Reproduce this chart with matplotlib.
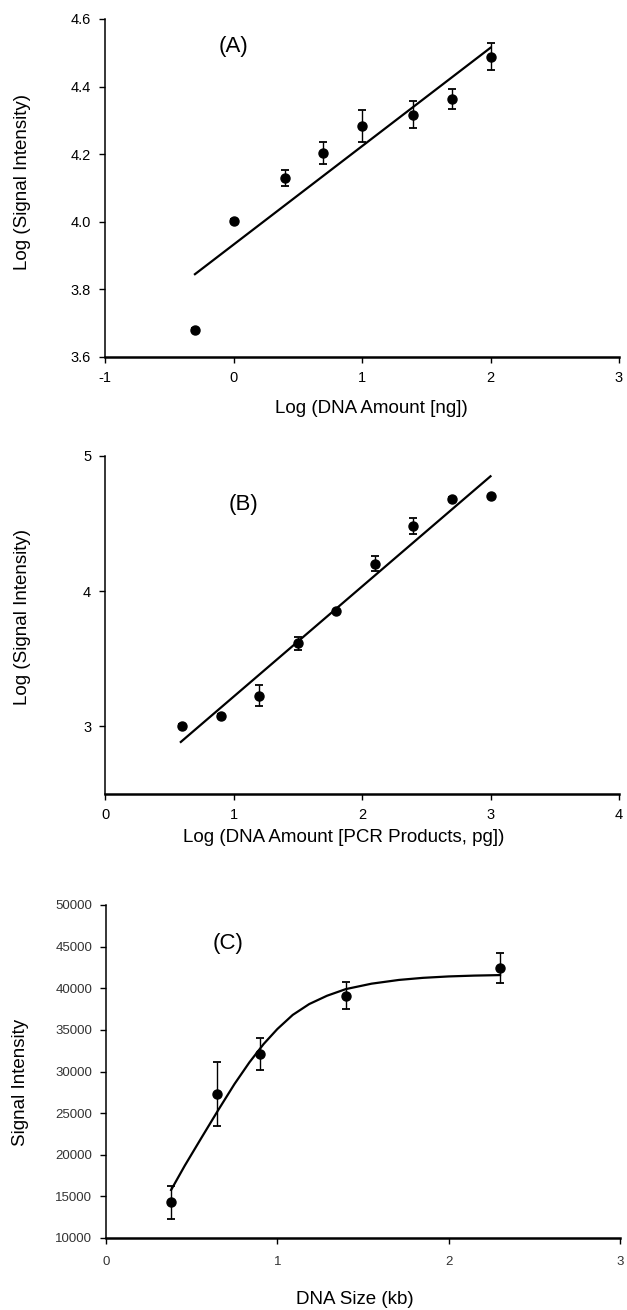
import matplotlib
matplotlib.use("Agg")
import matplotlib.pyplot as plt

plt.rcParams['font.family'] = ['Liberation Sans', 'DejaVu Sans']
plt.rcParams['axes.unicode_minus'] = False

# ---------------- Data ----------------
# Panel A
a_x = [-0.3, 0.0, 0.4, 0.7, 1.0, 1.4, 1.7, 2.0]
a_y = [3.681, 4.003, 4.130, 4.203, 4.283, 4.317, 4.363, 4.488]
a_err = [0.006, 0.006, 0.024, 0.033, 0.048, 0.040, 0.030, 0.040]
a_fit_x = [-0.3, 2.0]
a_fit_y = [3.845, 4.515]
a_xticks = [-1, 0, 1, 2, 3]
a_yticks = [3.6, 3.8, 4.0, 4.2, 4.4, 4.6]
a_yticklabels = ['3.6', '3.8', '4.0', '4.2', '4.4', '4.6']

# Panel B
b_x = [0.6, 0.9, 1.2, 1.5, 1.8, 2.1, 2.4, 2.7, 3.0]
b_y = [3.005, 3.08, 3.226, 3.614, 3.85, 4.204, 4.484, 4.683, 4.705]
b_err = [0.01, 0.01, 0.077, 0.05, 0.01, 0.057, 0.06, 0.012, 0.01]
b_fit_x = [0.59, 3.0]
b_fit_y = [2.885, 4.85]
b_xticks = [0, 1, 2, 3, 4]
b_yticks = [3, 4, 5]

# Panel C
c_x = [0.38, 0.65, 0.9, 1.4, 2.3]
c_y = [14280, 27300, 32120, 39080, 42400]
c_err = [1940, 3900, 1940, 1620, 1800]
c_fit_x = [0.38, 0.46, 0.556, 0.653, 0.75, 0.837, 0.92, 1.0, 1.09, 1.186, 1.29,
           1.4, 1.55, 1.71, 1.85, 2.0, 2.15, 2.3]
c_fit_y = [15770, 18700, 22000, 25300, 28500, 31100, 33300, 35100, 36800, 38100,
           39100, 39900, 40550, 41000, 41250, 41420, 41520, 41580]
c_xticks = [0, 1, 2, 3]
c_yticks = [10000, 15000, 20000, 25000, 30000, 35000, 40000, 45000, 50000]

W, H = 627, 1310
fig = plt.figure(figsize=(W / 100, H / 100), dpi=100)


def make_ax(left, right, top, bottom):
    return fig.add_axes([left / W, 1 - bottom / H, (right - left) / W, (bottom - top) / H])


def style(ax, tick_fs, tick_color='black'):
    for s in ['top', 'right']:
        ax.spines[s].set_visible(False)
    ax.spines['bottom'].set_linewidth(1.8)
    ax.spines['left'].set_linewidth(1.1)
    ax.tick_params(direction='out', length=4, width=1.0, labelsize=tick_fs,
                   colors='black', labelcolor=tick_color, pad=6)


ebkw = dict(fmt='o', color='black', ms=6.5, elinewidth=1.0, capsize=3.0,
            capthick=1.3, zorder=3)

# ---------------- Panel A ----------------
axA = make_ax(105, 619, 19, 357)
axA.plot(a_fit_x, a_fit_y, color='black', lw=1.6)
axA.errorbar(a_x, a_y, yerr=a_err, **ebkw)
axA.set_xlim(-1, 3)
axA.set_ylim(3.6, 4.6)
axA.set_xticks(a_xticks)
axA.set_yticks(a_yticks)
axA.set_yticklabels(a_yticklabels)
style(axA, 10.5)
axA.set_xlabel('Log (DNA Amount [ng])', fontsize=13.5, va='center')
axA.xaxis.set_label_coords(0.518, -0.151)
axA.set_ylabel('Log (Signal Intensity)', fontsize=13.5, va='center')
axA.yaxis.set_label_coords(-0.161, 0.518)
axA.text(0.0, 4.52, '(A)', fontsize=16, ha='center', va='center')

# ---------------- Panel B ----------------
axB = make_ax(105, 619, 456, 794)
axB.plot(b_fit_x, b_fit_y, color='black', lw=1.6)
axB.errorbar(b_x, b_y, yerr=b_err, **ebkw)
axB.set_xlim(0, 4)
axB.set_ylim(2.5, 5)
axB.set_xticks(b_xticks)
axB.set_yticks(b_yticks)
style(axB, 10.5)
axB.set_xlabel('Log (DNA Amount [PCR Products, pg])', fontsize=13.5, va='center')
axB.xaxis.set_label_coords(0.465, -0.130)
axB.set_ylabel('Log (Signal Intensity)', fontsize=13.5, va='center')
axB.yaxis.set_label_coords(-0.161, 0.524)
axB.text(1.08, 4.64, '(B)', fontsize=16, ha='center', va='center')

# ---------------- Panel C ----------------
axC = make_ax(106, 620, 905, 1238)
axC.plot(c_fit_x, c_fit_y, color='black', lw=1.6)
axC.errorbar(c_x, c_y, yerr=c_err, **ebkw)
axC.set_xlim(0, 3)
axC.set_ylim(10000, 50000)
axC.set_xticks(c_xticks)
axC.set_yticks(c_yticks)
style(axC, 9.5, tick_color='#333333')
axC.tick_params(axis='x', pad=9)
axC.set_xlabel('DNA Size (kb)', fontsize=13.5, va='center')
axC.xaxis.set_label_coords(0.484, -0.186)
axC.set_ylabel('Signal Intensity', fontsize=13.5, va='center')
axC.yaxis.set_label_coords(-0.167, 0.468)
axC.text(0.715, 45430, '(C)', fontsize=16, ha='center', va='center')

fig.savefig('out.png', dpi=100)
